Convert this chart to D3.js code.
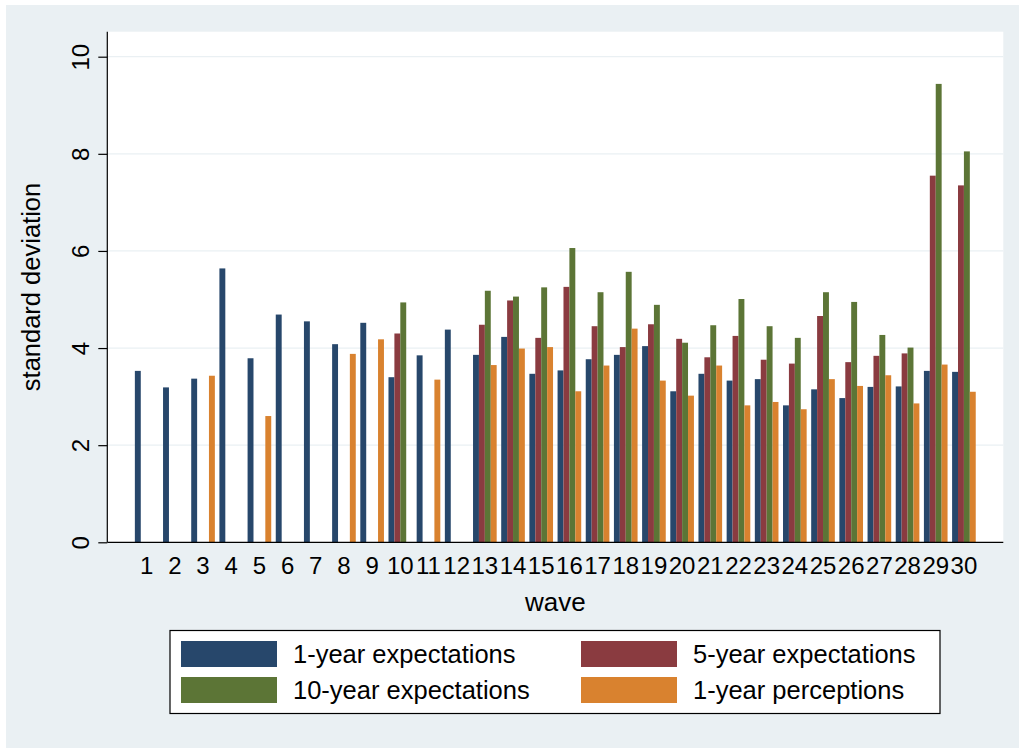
<!DOCTYPE html>
<html>
<head>
<meta charset="utf-8">
<script src="https://cdn.jsdelivr.net/npm/d3@7"></script>
<style>
  html, body { margin: 0; padding: 0; background: #ffffff; }
  svg { display: block; font-family: "Liberation Sans", Arial, Helvetica, sans-serif; }
</style>
</head>
<body>
<svg id="chart" width="1019" height="748"></svg>
<script>
// ---- data ----
const waves = d3.range(1, 31).map(String);
const oneYearExp = [3.53, 3.19, 3.37, 5.64, 3.79, 4.69, 4.55, 4.08, 4.52, 3.40,
                    3.85, 4.38, 3.86, 4.23, 3.47, 3.54, 3.77, 3.86, 4.04, 3.11,
                    3.47, 3.33, 3.36, 2.82, 3.15, 2.97, 3.20, 3.21, 3.53, 3.51];
const fiveYearExp = [null, null, null, null, null, null, null, null, null, 4.30,
                     null, null, 4.48, 4.98, 4.21, 5.26, 4.45, 4.02, 4.49, 4.19,
                     3.81, 4.25, 3.76, 3.68, 4.66, 3.71, 3.84, 3.89, 7.55, 7.35];
const tenYearExp = [null, null, null, null, null, null, null, null, null, 4.94,
                    null, null, 5.18, 5.06, 5.25, 6.06, 5.15, 5.57, 4.89, 4.11,
                    4.47, 5.01, 4.45, 4.21, 5.15, 4.95, 4.27, 4.01, 9.44, 8.05];
const oneYearPerc = [null, null, 3.43, null, 2.60, null, null, 3.88, 4.18, null,
                     3.35, null, 3.65, 3.99, 4.02, 3.11, 3.64, 4.40, 3.33, 3.02,
                     3.64, 2.82, 2.89, 2.74, 3.36, 3.22, 3.44, 2.86, 3.66, 3.10];
const seriesNames = ["1-year expectations", "5-year expectations", "10-year expectations", "1-year perceptions"];
const seriesValues = [oneYearExp, fiveYearExp, tenYearExp, oneYearPerc];
const seriesColors = ["#27476b", "#8a3b40", "#5c7536", "#d9822f"];
const yTicks = [0, 2, 4, 6, 8, 10];
const xTitle = "wave";
const yTitle = "standard deviation";

// ---- layout ----
const svg = d3.select("#chart");
const W = 1019, H = 748;
const plot = { left: 107.3, right: 1003.3, top: 31.7, bottom: 542.3 };

svg.append("rect").attr("x", 0).attr("y", 0).attr("width", W).attr("height", H).attr("fill", "#ffffff");
svg.append("rect").attr("x", 6).attr("y", 5).attr("width", W - 6).attr("height", H - 5).attr("fill", "#eaf0f3");
svg.append("rect").attr("x", plot.left).attr("y", plot.top)
  .attr("width", plot.right - plot.left).attr("height", plot.bottom - plot.top).attr("fill", "#ffffff");

const x = d3.scaleBand().domain(waves).range([plot.left, plot.right])
  .paddingInner(0.161).paddingOuter(0.978);
const xs = d3.scaleBand().domain(d3.range(seriesNames.length)).range([0, x.bandwidth()]).padding(0);
const yMax = 10 * (plot.bottom - plot.top) / (plot.bottom - 56.7);
const y = d3.scaleLinear().domain([0, yMax]).range([plot.bottom, plot.top]);

// gridlines
svg.append("g").selectAll("line").data(yTicks.filter(d => d > 0)).join("line")
  .attr("x1", plot.left).attr("x2", plot.right)
  .attr("y1", d => y(d)).attr("y2", d => y(d))
  .attr("stroke", "#eaf0f3").attr("stroke-width", 1.2);

// bars
const rows = [];
waves.forEach((w, i) => {
  seriesValues.forEach((vals, s) => {
    if (vals[i] != null) rows.push({ wave: w, s, v: vals[i] });
  });
});
svg.append("g").selectAll("rect").data(rows).join("rect")
  .attr("x", d => x(d.wave) + xs(d.s))
  .attr("width", xs.bandwidth())
  .attr("y", d => y(d.v))
  .attr("height", d => y(0) - y(d.v))
  .attr("fill", d => seriesColors[d.s]);

// y axis
const yAxis = d3.axisLeft(y).tickValues(yTicks).tickSize(9).tickPadding(4).tickFormat(d3.format("d"));
const gy = svg.append("g").attr("transform", `translate(${plot.left},0)`).call(yAxis);
gy.select(".domain").attr("d", `M0,${plot.top}V${plot.bottom}`).attr("stroke", "#000").attr("stroke-width", 1.2);
gy.selectAll(".tick line").attr("stroke", "#000").attr("stroke-width", 1.2);
gy.selectAll(".tick text")
  .attr("font-size", 24).attr("fill", "#000")
  .attr("text-anchor", "middle")
  .attr("transform", "rotate(-90)")
  .attr("x", 0).attr("y", -18).attr("dy", 0);

// x axis
const xAxis = d3.axisBottom(x).tickSize(0).tickPadding(0);
const gx = svg.append("g").attr("transform", `translate(0,${plot.bottom})`).call(xAxis);
gx.select(".domain").attr("d", `M${plot.left},0H${plot.right}`).attr("stroke", "#000").attr("stroke-width", 1.2);
gx.selectAll(".tick text").attr("font-size", 24).attr("fill", "#000").attr("y", 32).attr("dy", 0);

// titles
svg.append("text").attr("x", (plot.left + plot.right) / 2).attr("y", 611)
  .attr("text-anchor", "middle").attr("font-size", 26).attr("fill", "#000").text(xTitle);
svg.append("text").attr("transform", `translate(40,${(plot.top + plot.bottom) / 2}) rotate(-90)`)
  .attr("text-anchor", "middle").attr("font-size", 25.5).attr("fill", "#000").text(yTitle);

// legend
const lg = svg.append("g");
lg.append("rect").attr("x", 170).attr("y", 630.5).attr("width", 770).attr("height", 83)
  .attr("fill", "#fff").attr("stroke", "#000").attr("stroke-width", 1.2);
const legendPos = [[181, 641], [581, 641], [181, 677], [581, 677]];
const legendOrder = [0, 1, 2, 3];
legendOrder.forEach((s, k) => {
  const [lx, ly] = legendPos[k];
  lg.append("rect").attr("x", lx).attr("y", ly).attr("width", 96).attr("height", 26).attr("fill", seriesColors[s]);
  lg.append("text").attr("x", lx + 112).attr("y", ly + 22).attr("font-size", 25.5).attr("fill", "#000").text(seriesNames[s]);
});
</script>
</body>
</html>
